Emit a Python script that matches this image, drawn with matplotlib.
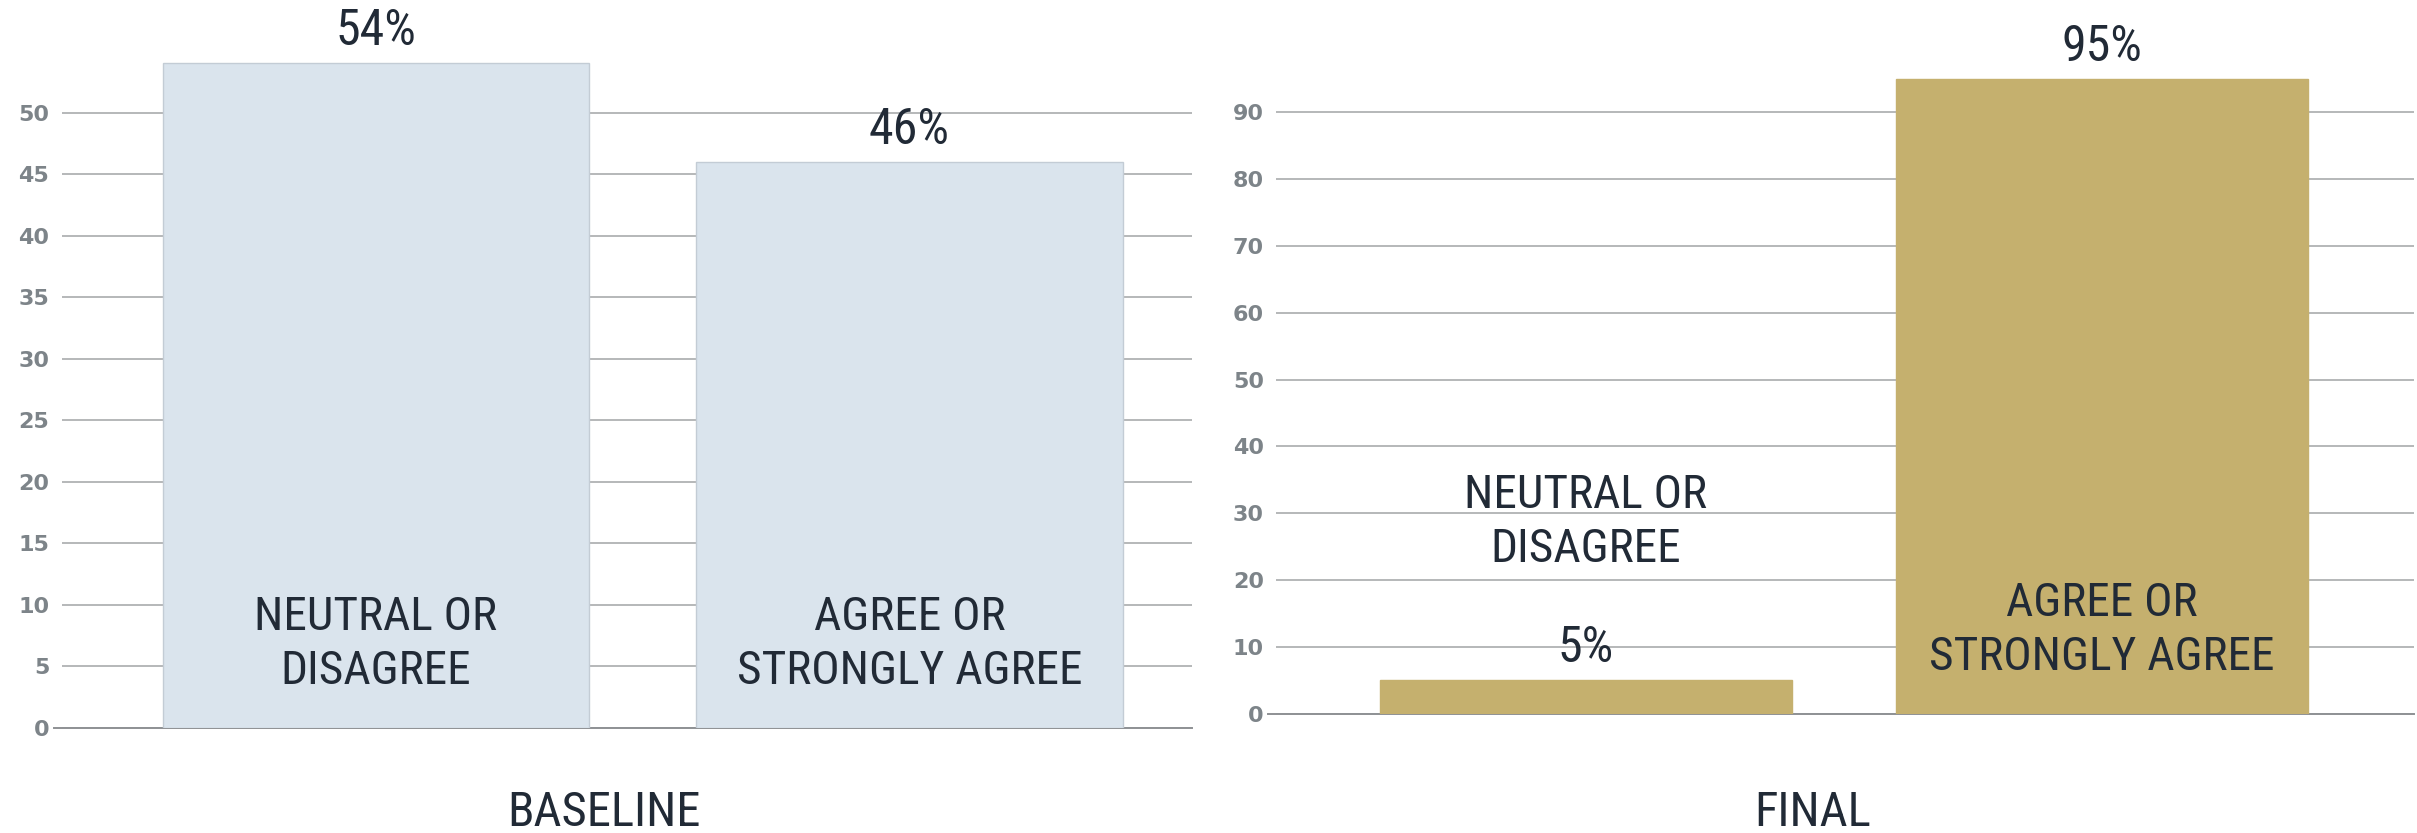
import matplotlib
matplotlib.use("Agg")
import matplotlib.pyplot as plt
from matplotlib import font_manager
from matplotlib.lines import Line2D

# ---- data -------------------------------------------------------------
categories = ["NEUTRAL OR\nDISAGREE", "AGREE OR\nSTRONGLY AGREE"]
baseline_values = [54, 46]
final_values = [5, 95]
baseline_ticks = [0, 5, 10, 15, 20, 25, 30, 35, 40, 45, 50]
final_ticks = [0, 10, 20, 30, 40, 50, 60, 70, 80, 90]
panel_titles = ["BASELINE", "FINAL"]

# ---- fonts ------------------------------------------------------------
available = {f.name for f in font_manager.fontManager.ttflist}


def pick(candidates, default):
    for name in candidates:
        if name in available:
            return name
    return default


NARROW = pick(["Liberation Sans Narrow", "DejaVu Sans Condensed",
               "Roboto Condensed", "Open Sans Condensed"], "Liberation Sans")
TICKFONT = "DejaVu Sans"

TEXT_COLOR = "#212a36"
TICK_COLOR = "#7d8489"
GRID_COLOR = "#a9abad"
ZERO_COLOR = "#8e9194"

fig = plt.figure(figsize=(24.17, 8.33), dpi=100)

panels = [
    dict(values=baseline_values, ticks=baseline_ticks, title=panel_titles[0],
         rect=[0.02553, 0.1265, 0.4675, 0.8735], xlim=(-0.589, 1.529),
         ylim=(0, 59.15), face="#dae4ed", edge="#c3ccd5", title_x=0.25),
    dict(values=final_values, ticks=final_ticks, title=panel_titles[1],
         rect=[0.5281, 0.1432, 0.4707, 0.8568], xlim=(-0.600, 1.605),
         ylim=(0, 106.8), face="#c5b06e", edge="#c5b06e", title_x=0.75),
]

for p in panels:
    ax = fig.add_axes(p["rect"])
    x = list(range(len(categories)))
    ax.bar(x, p["values"], width=0.8, color=p["face"], edgecolor=p["edge"],
           linewidth=1.0, zorder=3)
    ax.set_xlim(*p["xlim"])
    ax.set_ylim(*p["ylim"])
    ax.set_yticks(p["ticks"])
    ax.set_yticklabels([str(t) for t in p["ticks"]], fontfamily=TICKFONT,
                       fontweight="bold", fontsize=16, color=TICK_COLOR)
    ax.set_xticks([])
    for s in ax.spines.values():
        s.set_visible(False)
    ax.tick_params(axis="y", length=0, pad=9)
    ax.yaxis.grid(True, color=GRID_COLOR, linewidth=1.2)
    ax.set_axisbelow(True)
    # baseline rule reaching slightly past the grid
    ax.add_line(Line2D([-0.007, 1.0], [0, 0], transform=ax.get_yaxis_transform(),
                       color=ZERO_COLOR, linewidth=1.4, clip_on=False, zorder=2))

    top = p["ylim"][1]
    for xi, v, cat in zip(x, p["values"], categories):
        ax.annotate(f"{v}%", xy=(xi, v), xytext=(0, 13),
                    textcoords="offset points", ha="center", va="baseline",
                    fontsize=36, family=NARROW, color=TEXT_COLOR, zorder=5)
        if v / top > 0.2:
            ax.annotate(cat, xy=(xi, 0), xytext=(0, 60),
                        textcoords="offset points", ha="center", va="center",
                        fontsize=34, family=NARROW, color=TEXT_COLOR,
                        linespacing=1.28, multialignment="center", zorder=5)
        else:
            ax.annotate(cat, xy=(xi, v), xytext=(0, 114),
                        textcoords="offset points", ha="center", va="center",
                        fontsize=34, family=NARROW, color=TEXT_COLOR,
                        linespacing=1.28, multialignment="center", zorder=5)

    fig.text(p["title_x"], 0.009, p["title"], ha="center", va="baseline",
             fontsize=35, family=NARROW, color=TEXT_COLOR)

fig.savefig("out.png", dpi=100)
